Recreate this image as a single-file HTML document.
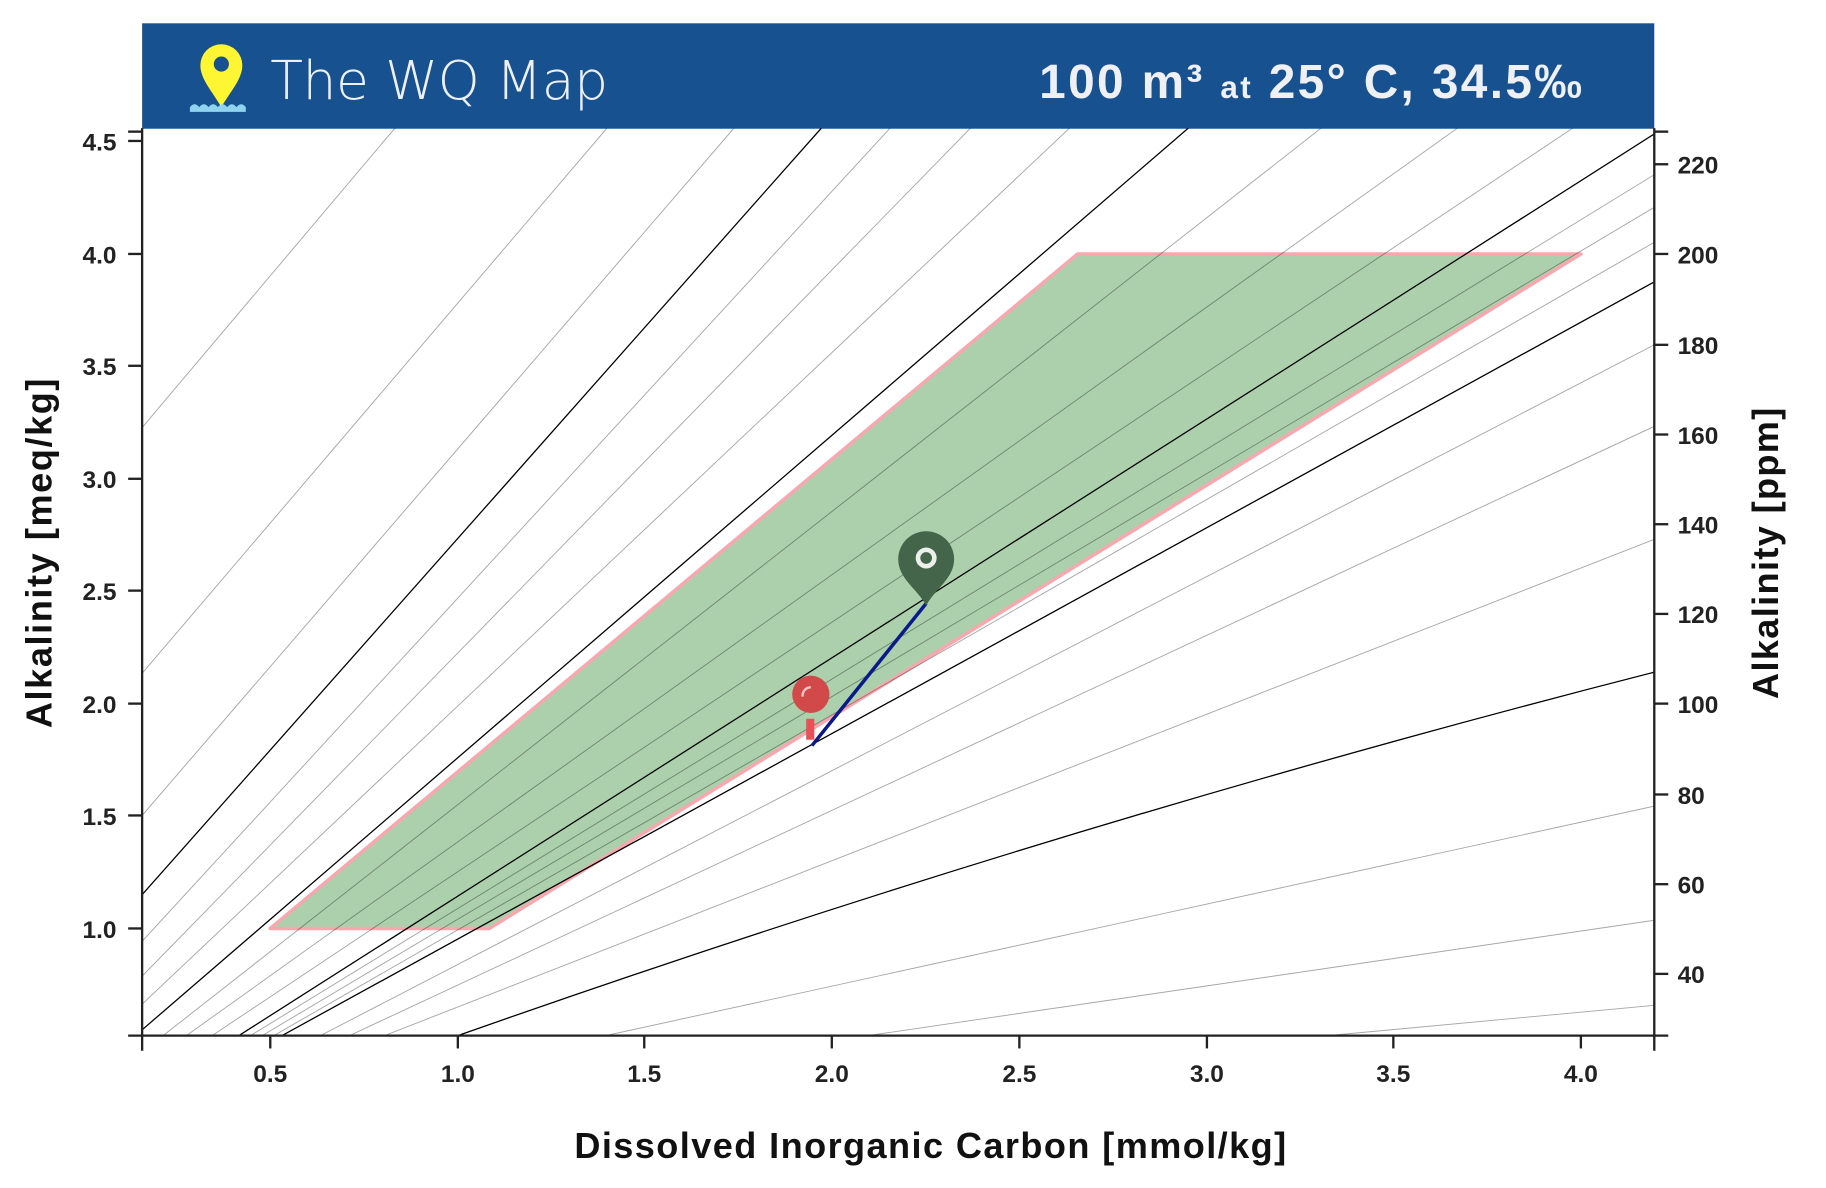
<!DOCTYPE html>
<html><head><meta charset="utf-8"><style>
html,body{margin:0;padding:0;background:#fff}
svg{display:block}
text{font-family:"Liberation Sans",sans-serif}
.tk{font-family:"Liberation Sans Narrow","Liberation Sans",sans-serif}
</style></head><body>
<svg width="1826" height="1188" viewBox="0 0 1567.4 1019.8" preserveAspectRatio="none" xmlns="http://www.w3.org/2000/svg">
<defs><clipPath id="c"><rect x="122" y="110" width="1298" height="779"/></clipPath></defs>
<rect x="122" y="20" width="1298" height="90.5" fill="#175190"/>
<path d="M190,92 C182,78 172,68 172,56 A18,18 0 1 1 208,56 C208,68 198,78 190,92 Z" fill="#fff633"/>
<circle cx="190" cy="55" r="6.5" fill="#175190"/>
<path d="M163,92 q4,-5 8,0 q4,-5 8,0 q4,-5 8,0 q4,-5 8,0 q4,-5 8,0 q4,-5 8,0 v4 h-48 z" fill="#8fd3ef"/>
<text x="232" y="85" font-size="46" fill="#eef0f4" style="font-family:'DejaVu Sans','Liberation Sans',sans-serif;font-weight:200" textLength="290">The WQ Map</text>
<text x="892" y="84" font-size="41" fill="#eef0f4" font-weight="bold" textLength="466">100 m³ <tspan font-size="27">at</tspan> 25° C, 34.5‰</text>
<g clip-path="url(#c)">
<polygon points="232,797 420,797 1357,218 925,218" fill="#acd0ac" stroke="#f7a7ad" stroke-width="3" stroke-linejoin="round"/>
<g stroke="#000" stroke-opacity="0.35" stroke-width="0.8" fill="none">
<line x1="122" y1="367" x2="339" y2="110"/>
<line x1="122" y1="578" x2="521" y2="110"/>
<line x1="122" y1="700" x2="630" y2="110"/>
<line x1="122" y1="808" x2="764" y2="110"/>
<line x1="122" y1="838" x2="833" y2="110"/>
<line x1="122" y1="862" x2="918" y2="110"/>
<line x1="140" y1="889" x2="1134" y2="110"/>
<line x1="160" y1="889" x2="1251" y2="110"/>
<line x1="182" y1="889" x2="1350" y2="110"/>
<line x1="215" y1="889" x2="1420" y2="150"/>
<line x1="225" y1="889" x2="1420" y2="178"/>
<line x1="235" y1="889" x2="1420" y2="208"/>
<line x1="275" y1="889" x2="1420" y2="296"/>
<line x1="300" y1="889" x2="1420" y2="366"/>
<line x1="330" y1="889" x2="1420" y2="463"/>
<line x1="520" y1="889" x2="1420" y2="692"/>
<line x1="745" y1="889" x2="1420" y2="790"/>
<line x1="1140" y1="889" x2="1420" y2="863"/>
</g>
<g stroke="#000" stroke-width="1.1" fill="none">
<line x1="122" y1="768" x2="705" y2="110"/>
<line x1="122" y1="884" x2="1020" y2="110"/>
<line x1="205" y1="889" x2="1420" y2="115"/>
<line x1="242" y1="889" x2="1420" y2="242"/>
<path d="M393,889 Q900,710 1420,577"/>
</g>
</g>
<line x1="697" y1="640" x2="795" y2="518" stroke="#0a1a8a" stroke-width="3"/>
<circle cx="696" cy="596" r="16" fill="#d2494a"/>
<path d="M689,598 a7,7 0 0 1 7,-8" stroke="#f0c8c8" stroke-width="2" fill="none"/>
<rect x="692" y="617" width="7" height="18" fill="#e9505a"/>
<path d="M795,520 C788,506 771,497 771,480 A24,24 0 1 1 819,480 C819,497 802,506 795,520 Z" fill="#44654a"/>
<circle cx="795" cy="479" r="9" fill="#fff" opacity="0.9"/>
<circle cx="795" cy="479" r="5" fill="#44654a"/>
<g stroke="#222" stroke-width="2" fill="none">
<line x1="122" y1="110" x2="122" y2="890"/>
<line x1="1420" y1="110" x2="1420" y2="890"/>
<line x1="110" y1="889" x2="1432" y2="889"/>
<line x1="110" y1="113" x2="122" y2="113"/>
<line x1="1420" y1="113" x2="1432" y2="113"/>
<line x1="122" y1="889" x2="122" y2="902"/>
<line x1="1420" y1="889" x2="1420" y2="902"/>
<line x1="110" y1="121" x2="122" y2="121"/><line x1="110" y1="218" x2="122" y2="218"/><line x1="110" y1="314" x2="122" y2="314"/><line x1="110" y1="411" x2="122" y2="411"/><line x1="110" y1="507" x2="122" y2="507"/><line x1="110" y1="604" x2="122" y2="604"/><line x1="110" y1="700" x2="122" y2="700"/><line x1="110" y1="797" x2="122" y2="797"/>
<line x1="232" y1="889" x2="232" y2="900"/><line x1="393" y1="889" x2="393" y2="900"/><line x1="553" y1="889" x2="553" y2="900"/><line x1="714" y1="889" x2="714" y2="900"/><line x1="875" y1="889" x2="875" y2="900"/><line x1="1036" y1="889" x2="1036" y2="900"/><line x1="1196" y1="889" x2="1196" y2="900"/><line x1="1357" y1="889" x2="1357" y2="900"/>
<line x1="1420" y1="141" x2="1432" y2="141"/><line x1="1420" y1="218" x2="1432" y2="218"/><line x1="1420" y1="296" x2="1432" y2="296"/><line x1="1420" y1="373" x2="1432" y2="373"/><line x1="1420" y1="450" x2="1432" y2="450"/><line x1="1420" y1="527" x2="1432" y2="527"/><line x1="1420" y1="604" x2="1432" y2="604"/><line x1="1420" y1="682" x2="1432" y2="682"/><line x1="1420" y1="759" x2="1432" y2="759"/><line x1="1420" y1="836" x2="1432" y2="836"/>
</g>
<g class="tk" font-size="21" font-weight="bold" fill="#222" text-anchor="end">
<text x="100" y="129">4.5</text><text x="100" y="226">4.0</text><text x="100" y="322">3.5</text><text x="100" y="419">3.0</text><text x="100" y="515">2.5</text><text x="100" y="612">2.0</text><text x="100" y="708">1.5</text><text x="100" y="805">1.0</text>
</g>
<g class="tk" font-size="21" font-weight="bold" fill="#222" text-anchor="start">
<text x="1440" y="149">220</text><text x="1440" y="226">200</text><text x="1440" y="304">180</text><text x="1440" y="381">160</text><text x="1440" y="458">140</text><text x="1440" y="535">120</text><text x="1440" y="612">100</text><text x="1440" y="690">80</text><text x="1440" y="767">60</text><text x="1440" y="844">40</text>
</g>
<g class="tk" font-size="21" font-weight="bold" fill="#222" text-anchor="middle">
<text x="232" y="929">0.5</text><text x="393" y="929">1.0</text><text x="553" y="929">1.5</text><text x="714" y="929">2.0</text><text x="875" y="929">2.5</text><text x="1036" y="929">3.0</text><text x="1196" y="929">3.5</text><text x="1357" y="929">4.0</text>
</g>
<text x="493" y="994" font-size="31" font-weight="bold" fill="#111" textLength="611">Dissolved Inorganic Carbon [mmol/kg]</text>
<text transform="translate(44,625) rotate(-90)" font-size="31" font-weight="bold" fill="#111" textLength="300">Alkalinity [meq/kg]</text>
<text transform="translate(1526,600) rotate(-90)" font-size="31" font-weight="bold" fill="#111" textLength="250">Alkalinity [ppm]</text>
</svg>
</body></html>
